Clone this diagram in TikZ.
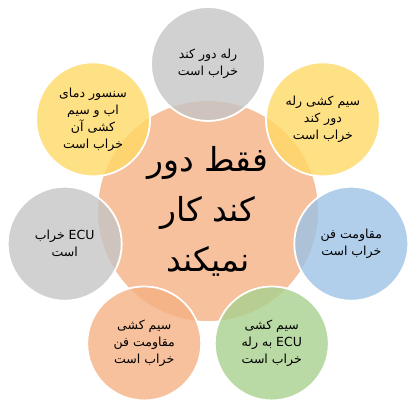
\documentclass[tikz,border=0pt]{standalone}
\usepackage{fontspec}
\usetikzlibrary{positioning}
\TeXXeTstate=1
\newfontfamily\farsifont[Script=Arabic]{DejaVu Sans}
\newcommand{\rl}[1]{\beginR #1\endR}
\definecolor{sal}{HTML}{F4B183}
\definecolor{gry}{HTML}{C6C6C6}
\definecolor{ylw}{HTML}{FFD966}
\definecolor{blu}{HTML}{9DC3E6}
\definecolor{grn}{HTML}{A9D18E}

\begin{document}
\begin{tikzpicture}[
    x=1pt, y=1pt,
    rad/.style = {circle, draw=white, line width=1.8pt, fill opacity=0.8,
                  text opacity=1, inner sep=0pt, align=center},
    core/.style = {rad, fill=sal, minimum size=222pt,
                   font=\farsifont\fontsize{33}{50}\selectfont},
    leaf/.style = {rad, minimum size=114pt,
                   font=\farsifont\fontsize{12.5}{17}\selectfont},
    ]
    \useasboundingbox (-208,-196) rectangle (208,211);
    %nodes
    \node[core] (mid) at (0,0)
        {\rl{فقط دور}\\\rl{کند کار}\\\rl{نمیکند}};
    \node[leaf,fill=gry] (relay) at (90:147)
        {\rl{رله دور کند}\\\rl{خراب است}};
    \node[leaf,fill=ylw] (relaywire) at (38.57:147)
        {\rl{سیم کشی رله}\\\rl{دور کند}\\\rl{خراب است}};
    \node[leaf,fill=blu] (fanres) at (-12.86:147)
        {\rl{مقاومت فن}\\\rl{خراب است}};
    \node[leaf,fill=grn] (ecuwire) at (-64.29:147)
        {\rl{سیم کشی}\\\rl{\beginL ECU\endL{} به رله}\\\rl{خراب است}};
    \node[leaf,fill=sal] (fanwire) at (-115.71:147)
        {\rl{سیم کشی}\\\rl{مقاومت فن}\\\rl{خراب است}};
    \node[leaf,fill=gry] (ecu) at (-167.14:147)
        {\rl{\beginL ECU\endL{} خراب}\\\rl{است}};
    \node[leaf,fill=ylw] (sensor) at (141.43:147)
        {\rl{سنسور دمای}\\\rl{اب و سیم}\\\rl{کشی آن}\\\rl{خراب است}};
\end{tikzpicture}
\end{document}
